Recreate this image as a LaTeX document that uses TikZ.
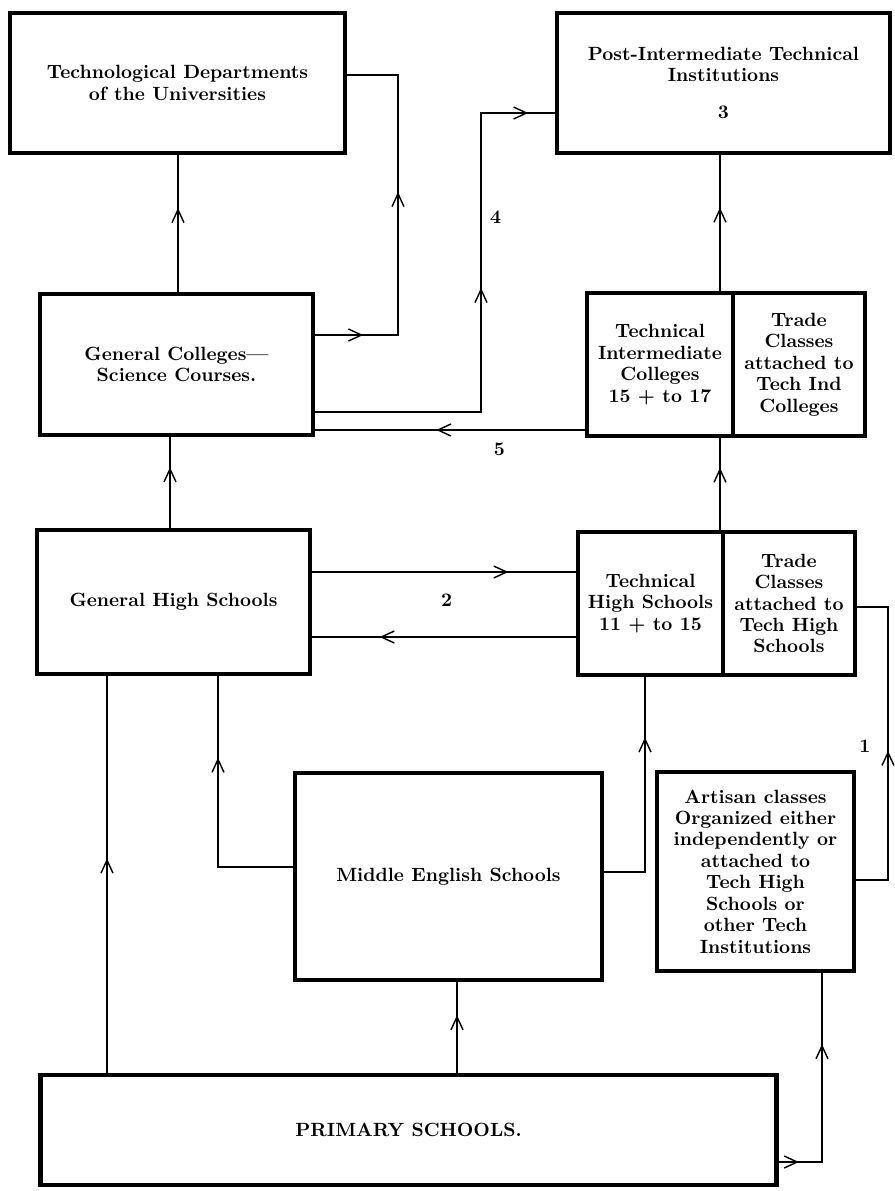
\documentclass[tikz,border=0pt]{standalone}
\usepackage{tikz}
\usetikzlibrary{positioning, arrows.meta, decorations.markings}

\tikzset{
  inst/.style={draw, line width=2.8pt, align=center, inner sep=2pt, outer sep=0pt,
    font=\fontsize{10.9}{12.2}\selectfont\bfseries},
  link/.style={line width=0.8pt},
  flow/.style={postaction={decorate, decoration={markings,
      mark=at position #1 with {\arrow{>}}}}},
  flow/.default=0.5,
  lab/.style={font=\fontsize{10.9}{12.2}\selectfont\bfseries, inner sep=2pt},
}

\begin{document}
\begin{tikzpicture}[x=0.02cm, y=-0.02cm, >={Straight Barb[length=2.6mm,width=2.4mm]}]
        \useasboundingbox (0,0) rectangle (894,1191);

        % 绘制方框
        \node[inst, minimum width=6.7cm, minimum height=2.8cm] (tdept) at (177.5,83)
          {Technological Departments\\of the Universities};
        \node[inst, minimum width=6.66cm, minimum height=2.8cm] (post) at (723.5,83)
          {Post-Intermediate Technical\\Institutions\\[0.31cm]3};
        \node[inst, minimum width=5.46cm, minimum height=2.82cm] (gcoll) at (176.5,364.5)
          {General Colleges—\\Science Courses.};
        \node[inst, minimum width=2.92cm, minimum height=2.86cm] (ticoll) at (660,364.5)
          {Technical\\Intermediate\\Colleges\\15 + to 17};
        \node[inst, minimum width=2.64cm, minimum height=2.86cm, right=0pt of ticoll] (tcoll)
          {Trade\\Classes\\attached to\\Tech Ind\\Colleges};
        \node[inst, minimum width=5.46cm, minimum height=2.88cm] (ghs) at (173.5,602)
          {General High Schools};
        \node[inst, minimum width=2.9cm, minimum height=2.86cm] (ths) at (650.5,603.5)
          {Technical\\High Schools\\11 + to 15};
        \node[inst, minimum width=2.64cm, minimum height=2.86cm, right=0pt of ths] (tths)
          {Trade\\Classes\\attached to\\Tech High\\Schools};
        \node[inst, minimum width=6.14cm, minimum height=4.14cm] (mes) at (448.5,876.5)
          {Middle English Schools};
        \node[inst, minimum width=3.94cm, minimum height=3.98cm] (art) at (755.5,871.5)
          {Artisan classes\\Organized either\\independently or\\attached to\\Tech High\\Schools or\\other Tech\\Institutions};
        \node[inst, minimum width=14.74cm, minimum height=2.2cm] (prim) at (408.5,1130)
          {PRIMARY SCHOOLS.};

        % 辅助坐标
        \coordinate (c0) at (178,0);
        \coordinate (c1) at (398,335);
        \coordinate (c2) at (398,75);
        \coordinate (c3) at (481,412);
        \coordinate (c4) at (481,113);
        \coordinate (c5) at (0,430);
        \coordinate (c6) at (170,0);
        \coordinate (c7) at (0,572);
        \coordinate (c8) at (0,637);
        \coordinate (c9) at (218,867);
        \coordinate (c10) at (645,872);
        \coordinate (c11) at (107,0);
        \coordinate (c12) at (457,0);
        \coordinate (c13) at (822,1162);
        \coordinate (c14) at (888,880);
        \coordinate (c15) at (888,607);
        \coordinate (spine) at (720,0);

        % 上层连线
        \draw[link, flow=0.61] (gcoll.north -| c0) -- (tdept.south -| c0);
        \draw[link, flow=0.126, flow=0.573] (gcoll.east |- c1) -- (c1) -- (c2) -- (tdept.east |- c2);
        \draw[link, flow=0.538, flow=0.947] (gcoll.east |- c3) -- (c3)
          -- (c4) node[lab, right=0.1cm, pos=0.65] (n4) {4} -- (post.west |- c4);
        \draw[link, flow=0.55] (ticoll.west |- c5)
          -- node[lab, below=0.18cm, pos=0.32] (n5) {5} (gcoll.east |- c5);
        \draw[link, flow=0.61] (ticoll.north -| spine) -- (post.south -| spine);

        % 中层连线
        \draw[link, flow=0.66] (ghs.north -| c6) -- (gcoll.south -| c6);
        \draw[link, flow=0.67] (ths.north -| spine) -- (ticoll.south -| spine);
        \draw[link, flow=0.74] (ghs.east |- c7)
          -- node[lab, below=0.36cm, pos=0.51] (n2) {2} (ths.west |- c7);
        \draw[link, flow=0.74] (ths.west |- c8) -- (ghs.east |- c8);

        % 下层连线
        \draw[link, flow=0.69] (mes.west |- c9) -- (c9) -- (ghs.south -| c9);
        \draw[link, flow=0.74] (mes.east |- c10) -- (c10) -- (ths.south -| c10);
        \draw[link, flow=0.54] (prim.north -| c11) -- (ghs.south -| c11);
        \draw[link, flow=0.63] (prim.north -| c12) -- (mes.south -| c12);
        \draw[link, flow=0.093, flow=0.69] (prim.east |- c13) -- (c13) -- (art.south -| c13);
        \draw[link, flow=0.48] (art.east |- c14) -- (c14)
          -- node[lab, left=0.27cm, pos=0.49] (n1) {1} (c15) -- (tths.east |- c15);
\end{tikzpicture}
\end{document}
